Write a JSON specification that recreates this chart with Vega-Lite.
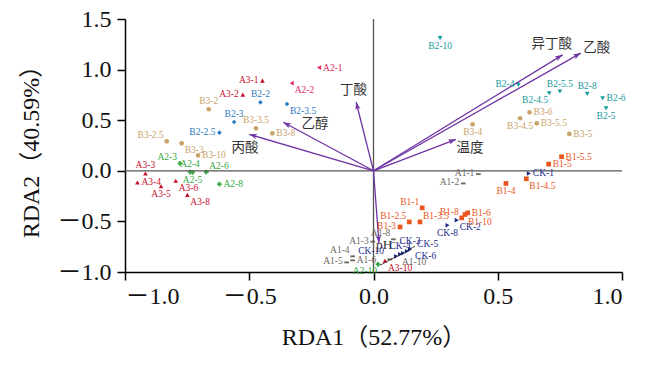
{
  "$schema": "https://vega.github.io/schema/vega-lite/v6.json",
  "width": 497,
  "height": 253,
  "autosize": "none",
  "padding": {"left": 125, "top": 19, "right": 38, "bottom": 95},
  "background": "white",
  "config": {
    "view": {"stroke": null},
    "font": "Liberation Serif",
    "axis": {
      "domainColor": "#000", "domainWidth": 1.5, "tickColor": "#000", "tickWidth": 1.5, "tickSize": 8,
      "labelFont": "Liberation Serif, Noto Sans CJK SC", "labelFontSize": 24, "labelColor": "#111",
      "titleFont": "Liberation Serif, Noto Sans CJK SC", "titleFontSize": 24, "titleFontWeight": "normal", "titleColor": "#111",
      "grid": false
    }
  },
  "datasets": {
    "pts": [
      {"id": "A1-1", "x": 0.422, "y": -0.033, "g": "A1", "p": "l"},
      {"id": "A1-2", "x": 0.361, "y": -0.125, "g": "A1", "p": "l"},
      {"id": "A1-3", "x": -0.003, "y": -0.70, "g": "A1", "p": "l"},
      {"id": "A1-4", "x": -0.084, "y": -0.845, "g": "A1", "p": "tl"},
      {"id": "A1-5", "x": -0.108, "y": -0.905, "g": "A1", "p": "l"},
      {"id": "A1-6", "x": -0.084, "y": -0.885, "g": "A1", "p": "r"},
      {"id": "A1-8", "x": 0.08, "y": -0.677, "g": "A1", "p": "tl"},
      {"id": "A1-10", "x": 0.066, "y": -0.875, "g": "A1", "p": "R"},
      {"id": "A2-1", "x": -0.219, "y": 1.02, "g": "A2p", "p": "r"},
      {"id": "A2-2", "x": -0.329, "y": 0.866, "g": "A2p", "p": "br"},
      {"id": "A2-3", "x": -0.779, "y": 0.073, "g": "A2", "p": "tl"},
      {"id": "A2-4", "x": -0.738, "y": -0.013, "g": "A2", "p": "t"},
      {"id": "A2-5", "x": -0.728, "y": -0.016, "g": "A2", "p": "b"},
      {"id": "A2-6", "x": -0.673, "y": -0.013, "g": "A2", "p": "tr"},
      {"id": "A2-8", "x": -0.62, "y": -0.132, "g": "A2", "p": "r"},
      {"id": "A2-10", "x": 0.018, "y": -0.924, "g": "A2", "p": "bl"},
      {"id": "A3-1", "x": -0.447, "y": 0.891, "g": "A3", "p": "l"},
      {"id": "A3-2", "x": -0.526, "y": 0.753, "g": "A3", "p": "l"},
      {"id": "A3-3", "x": -0.918, "y": -0.026, "g": "A3", "p": "t"},
      {"id": "A3-4", "x": -0.95, "y": -0.115, "g": "A3", "p": "r"},
      {"id": "A3-5", "x": -0.855, "y": -0.152, "g": "A3", "p": "b"},
      {"id": "A3-6", "x": -0.796, "y": -0.099, "g": "A3", "p": "br"},
      {"id": "A3-8", "x": -0.749, "y": -0.238, "g": "A3", "p": "br"},
      {"id": "A3-10", "x": 0.046, "y": -0.889, "g": "A3", "p": "br"},
      {"id": "B1-1", "x": 0.196, "y": -0.366, "g": "B1", "p": "tl"},
      {"id": "B1-2.5", "x": 0.144, "y": -0.505, "g": "B1", "p": "tl"},
      {"id": "B1-3", "x": 0.107, "y": -0.555, "g": "B1", "p": "l"},
      {"id": "B1-3.5", "x": 0.187, "y": -0.505, "g": "B1", "p": "tr"},
      {"id": "B1-4", "x": 0.533, "y": -0.125, "g": "B1", "p": "b"},
      {"id": "B1-4.5", "x": 0.615, "y": -0.079, "g": "B1", "p": "br"},
      {"id": "B1-5", "x": 0.705, "y": 0.066, "g": "B1", "p": "r"},
      {"id": "B1-5.5", "x": 0.757, "y": 0.139, "g": "B1", "p": "r"},
      {"id": "B1-6", "x": 0.379, "y": -0.416, "g": "B1", "p": "r"},
      {"id": "B1-8", "x": 0.355, "y": -0.465, "g": "B1", "p": "tl"},
      {"id": "B1-10", "x": 0.368, "y": -0.432, "g": "B1", "p": "br"},
      {"id": "B2-2", "x": -0.455, "y": 0.677, "g": "B2a", "p": "t"},
      {"id": "B2-2.5", "x": -0.62, "y": 0.377, "g": "B2a", "p": "l"},
      {"id": "B2-3", "x": -0.561, "y": 0.482, "g": "B2a", "p": "t"},
      {"id": "B2-3.5", "x": -0.348, "y": 0.66, "g": "B2a", "p": "br"},
      {"id": "B2-4", "x": 0.583, "y": 0.849, "g": "B2b", "p": "l"},
      {"id": "B2-4.5", "x": 0.707, "y": 0.766, "g": "B2b", "p": "bl"},
      {"id": "B2-5", "x": 0.936, "y": 0.618, "g": "B2b", "p": "b"},
      {"id": "B2-5.5", "x": 0.75, "y": 0.783, "g": "B2b", "p": "t"},
      {"id": "B2-6", "x": 0.922, "y": 0.717, "g": "B2b", "p": "r"},
      {"id": "B2-8", "x": 0.86, "y": 0.76, "g": "B2b", "p": "t"},
      {"id": "B2-10", "x": 0.268, "y": 1.311, "g": "B2b", "p": "b"},
      {"id": "B3-2", "x": -0.663, "y": 0.608, "g": "B3", "p": "t"},
      {"id": "B3-2.5", "x": -0.832, "y": 0.291, "g": "B3", "p": "tl"},
      {"id": "B3-3", "x": -0.772, "y": 0.271, "g": "B3", "p": "br"},
      {"id": "B3-3.5", "x": -0.473, "y": 0.42, "g": "B3", "p": "t"},
      {"id": "B3-4", "x": 0.399, "y": 0.459, "g": "B3", "p": "b"},
      {"id": "B3-4.5", "x": 0.59, "y": 0.519, "g": "B3", "p": "b"},
      {"id": "B3-5", "x": 0.788, "y": 0.364, "g": "B3", "p": "r"},
      {"id": "B3-5.5", "x": 0.657, "y": 0.469, "g": "B3", "p": "r"},
      {"id": "B3-6", "x": 0.628, "y": 0.578, "g": "B3", "p": "r"},
      {"id": "B3-8", "x": -0.407, "y": 0.37, "g": "B3", "p": "r"},
      {"id": "B3-10", "x": -0.706, "y": 0.152, "g": "B3", "p": "r"},
      {"id": "CK-1", "x": 0.625, "y": -0.026, "g": "CK", "p": "r"},
      {"id": "CK-2", "x": 0.335, "y": -0.488, "g": "CK", "p": "br"},
      {"id": "CK-3", "x": 0.147, "y": -0.776, "g": "CK", "p": "t"},
      {"id": "CK-4", "x": 0.107, "y": -0.825, "g": "CK", "p": "t"},
      {"id": "CK-5", "x": 0.135, "y": -0.795, "g": "CK", "p": "TR"},
      {"id": "CK-6", "x": 0.119, "y": -0.815, "g": "CK", "p": "R"},
      {"id": "CK-8", "x": 0.298, "y": -0.538, "g": "CK", "p": "b"},
      {"id": "CK-10", "x": 0.091, "y": -0.845, "g": "CK", "p": "L"}
    ],
    "arrows": [
      {"name": "丙酸", "x0": 0, "y0": 0, "x": -0.50, "y": 0.36, "lx": -0.517, "ly": 0.222},
      {"name": "乙醇", "x0": 0, "y0": 0, "x": -0.363, "y": 0.48, "lx": -0.235, "ly": 0.46},
      {"name": "丁酸", "x0": 0, "y0": 0, "x": -0.07, "y": 0.68, "lx": -0.08, "ly": 0.80},
      {"name": "异丁酸", "x0": 0, "y0": 0, "x": 0.761, "y": 1.146, "lx": 0.717, "ly": 1.255},
      {"name": "乙酸", "x0": 0, "y0": 0, "x": 0.834, "y": 1.163, "lx": 0.898, "ly": 1.212},
      {"name": "温度", "x0": 0, "y0": 0, "x": 0.332, "y": 0.311, "lx": 0.388, "ly": 0.222},
      {"name": "pH", "x0": 0, "y0": 0, "x": 0.022, "y": -0.716, "lx": 0.043, "ly": -0.729}
    ],
    "lead": [
      {"x": 0.026, "y": -0.934, "x2": 0.167, "y2": -0.746}
    ],
    "zero": [
      {"v": 0}
    ]
  },
  "layer": [
    {
      "data": {"name": "pts"},
      "mark": {"type": "point", "filled": true, "opacity": 1, "size": 22},
      "encoding": {
        "x": {"field": "x", "type": "quantitative", "title": "RDA1（52.77%）", "scale": {"domain": [-1, 1], "nice": false, "zero": false},
          "axis": {"values": [-1, -0.5, 0, 0.5, 1], "labelExpr": "(datum.value < 0 ? '－' : '') + format(abs(datum.value), '.1f')", "labelPadding": 4, "titlePadding": 17}},
        "y": {"field": "y", "type": "quantitative", "title": "RDA2（40.59%）", "scale": {"domain": [-1, 1.5], "nice": false, "zero": false},
          "axis": {"values": [-1, -0.5, 0, 0.5, 1, 1.5], "labelExpr": "(datum.value < 0 ? '－' : '') + format(abs(datum.value), '.1f')", "labelPadding": 6, "titlePadding": 14}},
        "color": {"field": "g", "type": "nominal", "legend": null,
          "scale": {"domain": ["A1", "A2", "A2p", "A3", "B1", "B2a", "B2b", "B3", "CK"],
                    "range": ["#6e6a5e", "#35a843", "#e0245e", "#c8102e", "#e8561e", "#2a7ac0", "#159a9c", "#c9a36a", "#1c2a8a"]}},
        "shape": {"field": "g", "type": "nominal", "legend": null,
          "scale": {"domain": ["A1", "A2", "A2p", "A3", "B1", "B2a", "B2b", "B3", "CK"],
                    "range": ["M-1,-0.4H1V0.4H-1Z", "cross", "triangle-left", "triangle-up", "square", "diamond", "triangle-down", "circle", "triangle-right"]}}
      }
    },
    {
      "data": {"name": "zero"},
      "mark": {"type": "rule", "color": "#555", "strokeWidth": 1.3},
      "encoding": {"x": {"field": "v", "type": "quantitative", "title": "RDA1（52.77%）"}}
    },
    {
      "data": {"name": "zero"},
      "mark": {"type": "rule", "color": "#555", "strokeWidth": 1.3},
      "encoding": {"y": {"field": "v", "type": "quantitative", "title": "RDA2（40.59%）"}}
    },
    {
      "data": {"name": "lead"},
      "mark": {"type": "rule", "color": "#222", "strokeWidth": 0.8},
      "encoding": {
        "x": {"field": "x", "type": "quantitative", "title": "RDA1（52.77%）"},
        "y": {"field": "y", "type": "quantitative", "title": "RDA2（40.59%）"},
        "x2": {"field": "x2"}, "y2": {"field": "y2"}
      }
    },
    {
      "data": {"name": "arrows"},
      "mark": {"type": "rule", "color": "#6f34a3", "strokeWidth": 1.3},
      "encoding": {
        "x": {"field": "x0", "type": "quantitative", "title": "RDA1（52.77%）"},
        "y": {"field": "y0", "type": "quantitative", "title": "RDA2（40.59%）"},
        "x2": {"field": "x"}, "y2": {"field": "y"}
      }
    },
    {
      "data": {"name": "arrows"},
      "transform": [{"calculate": "atan2(datum.x * 248.5, datum.y * 100.96) * 180 / PI", "as": "ang"}],
      "mark": {"type": "point", "shape": "M0,0L-0.75,2.2L0,1.7L0.75,2.2Z", "filled": true, "color": "#6f34a3", "size": 49, "opacity": 1},
      "encoding": {
        "x": {"field": "x", "type": "quantitative", "title": "RDA1（52.77%）"},
        "y": {"field": "y", "type": "quantitative", "title": "RDA2（40.59%）"},
        "angle": {"field": "ang", "type": "quantitative", "scale": null}
      }
    },
    {
      "data": {"name": "arrows"},
      "mark": {"type": "text", "font": "Liberation Serif, Noto Sans CJK SC", "fontSize": 13.5, "color": "#333", "align": "center", "baseline": "middle"},
      "encoding": {
        "x": {"field": "lx", "type": "quantitative", "title": "RDA1（52.77%）"},
        "y": {"field": "ly", "type": "quantitative", "title": "RDA2（40.59%）"},
        "text": {"field": "name"}
      }
    },
    {
      "data": {"name": "pts"}, "transform": [{"filter": "datum.p === 'r'"}],
      "mark": {"type": "text", "fontSize": 9.5, "align": "left", "baseline": "middle", "dx": 4, "dy": 0},
      "encoding": {"x": {"field": "x", "type": "quantitative", "title": "RDA1（52.77%）"}, "y": {"field": "y", "type": "quantitative", "title": "RDA2（40.59%）"}, "text": {"field": "id"}, "color": {"field": "g", "type": "nominal", "legend": null}}
    },
    {
      "data": {"name": "pts"}, "transform": [{"filter": "datum.p === 'l'"}],
      "mark": {"type": "text", "fontSize": 9.5, "align": "right", "baseline": "middle", "dx": -4, "dy": -1},
      "encoding": {"x": {"field": "x", "type": "quantitative", "title": "RDA1（52.77%）"}, "y": {"field": "y", "type": "quantitative", "title": "RDA2（40.59%）"}, "text": {"field": "id"}, "color": {"field": "g", "type": "nominal", "legend": null}}
    },
    {
      "data": {"name": "pts"}, "transform": [{"filter": "datum.p === 't'"}],
      "mark": {"type": "text", "fontSize": 9.5, "align": "center", "baseline": "middle", "dx": 0, "dy": -8},
      "encoding": {"x": {"field": "x", "type": "quantitative", "title": "RDA1（52.77%）"}, "y": {"field": "y", "type": "quantitative", "title": "RDA2（40.59%）"}, "text": {"field": "id"}, "color": {"field": "g", "type": "nominal", "legend": null}}
    },
    {
      "data": {"name": "pts"}, "transform": [{"filter": "datum.p === 'b'"}],
      "mark": {"type": "text", "fontSize": 9.5, "align": "center", "baseline": "middle", "dx": 0, "dy": 8},
      "encoding": {"x": {"field": "x", "type": "quantitative", "title": "RDA1（52.77%）"}, "y": {"field": "y", "type": "quantitative", "title": "RDA2（40.59%）"}, "text": {"field": "id"}, "color": {"field": "g", "type": "nominal", "legend": null}}
    },
    {
      "data": {"name": "pts"}, "transform": [{"filter": "datum.p === 'tr'"}],
      "mark": {"type": "text", "fontSize": 9.5, "align": "left", "baseline": "middle", "dx": 3, "dy": -6},
      "encoding": {"x": {"field": "x", "type": "quantitative", "title": "RDA1（52.77%）"}, "y": {"field": "y", "type": "quantitative", "title": "RDA2（40.59%）"}, "text": {"field": "id"}, "color": {"field": "g", "type": "nominal", "legend": null}}
    },
    {
      "data": {"name": "pts"}, "transform": [{"filter": "datum.p === 'tl'"}],
      "mark": {"type": "text", "fontSize": 9.5, "align": "right", "baseline": "middle", "dx": -3, "dy": -6},
      "encoding": {"x": {"field": "x", "type": "quantitative", "title": "RDA1（52.77%）"}, "y": {"field": "y", "type": "quantitative", "title": "RDA2（40.59%）"}, "text": {"field": "id"}, "color": {"field": "g", "type": "nominal", "legend": null}}
    },
    {
      "data": {"name": "pts"}, "transform": [{"filter": "datum.p === 'br'"}],
      "mark": {"type": "text", "fontSize": 9.5, "align": "left", "baseline": "middle", "dx": 3, "dy": 7},
      "encoding": {"x": {"field": "x", "type": "quantitative", "title": "RDA1（52.77%）"}, "y": {"field": "y", "type": "quantitative", "title": "RDA2（40.59%）"}, "text": {"field": "id"}, "color": {"field": "g", "type": "nominal", "legend": null}}
    },
    {
      "data": {"name": "pts"}, "transform": [{"filter": "datum.p === 'bl'"}],
      "mark": {"type": "text", "fontSize": 9.5, "align": "right", "baseline": "middle", "dx": -1, "dy": 7},
      "encoding": {"x": {"field": "x", "type": "quantitative", "title": "RDA1（52.77%）"}, "y": {"field": "y", "type": "quantitative", "title": "RDA2（40.59%）"}, "text": {"field": "id"}, "color": {"field": "g", "type": "nominal", "legend": null}}
    },
    {
      "data": {"name": "pts"}, "transform": [{"filter": "datum.p === 'R'"}],
      "mark": {"type": "text", "fontSize": 9.5, "align": "left", "baseline": "middle", "dx": 12, "dy": 3},
      "encoding": {"x": {"field": "x", "type": "quantitative", "title": "RDA1（52.77%）"}, "y": {"field": "y", "type": "quantitative", "title": "RDA2（40.59%）"}, "text": {"field": "id"}, "color": {"field": "g", "type": "nominal", "legend": null}}
    },
    {
      "data": {"name": "pts"}, "transform": [{"filter": "datum.p === 'TR'"}],
      "mark": {"type": "text", "fontSize": 9.5, "align": "left", "baseline": "middle", "dx": 10, "dy": -7},
      "encoding": {"x": {"field": "x", "type": "quantitative", "title": "RDA1（52.77%）"}, "y": {"field": "y", "type": "quantitative", "title": "RDA2（40.59%）"}, "text": {"field": "id"}, "color": {"field": "g", "type": "nominal", "legend": null}}
    },
    {
      "data": {"name": "pts"}, "transform": [{"filter": "datum.p === 'L'"}],
      "mark": {"type": "text", "fontSize": 9.5, "align": "right", "baseline": "middle", "dx": -12, "dy": -5},
      "encoding": {"x": {"field": "x", "type": "quantitative", "title": "RDA1（52.77%）"}, "y": {"field": "y", "type": "quantitative", "title": "RDA2（40.59%）"}, "text": {"field": "id"}, "color": {"field": "g", "type": "nominal", "legend": null}}
    }
  ]
}
